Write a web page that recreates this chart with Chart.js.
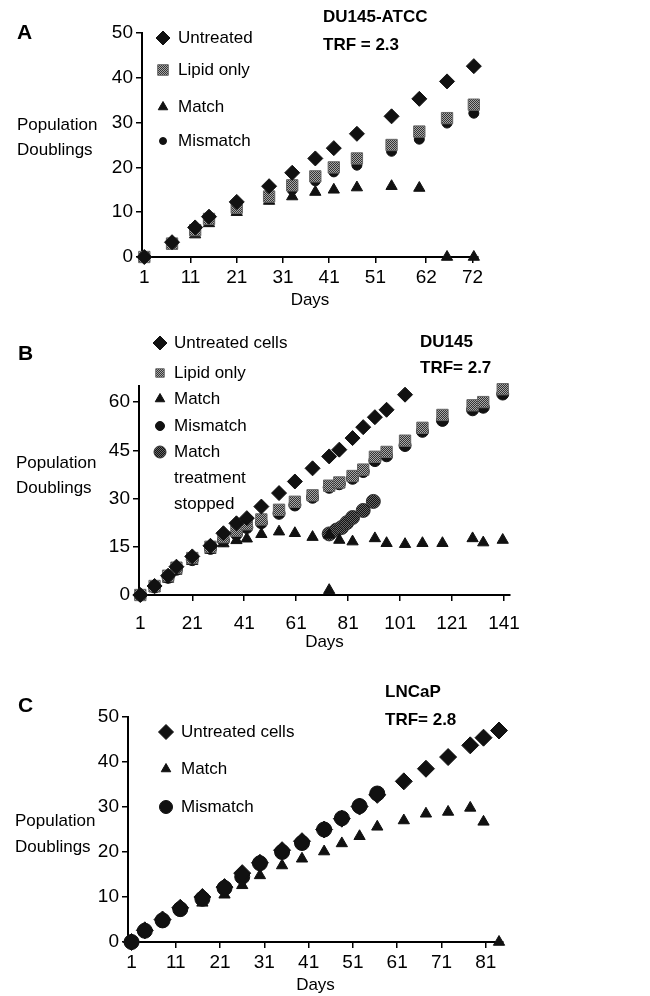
<!DOCTYPE html>
<html>
<head>
<meta charset="utf-8">
<script src="https://cdn.jsdelivr.net/npm/chart.js@4.4.0/dist/chart.umd.min.js"></script>
<style>
  body { margin: 0; background: #fff; }
  #page { position: relative; width: 650px; height: 996px; overflow: hidden; font-family: "Liberation Sans", Arial, sans-serif; color: #000; }
  canvas { position: absolute; left: 0; }
  .lbl { position: absolute; font-size: 17px; white-space: nowrap; }
  .b { font-weight: bold; }
  .letter { font-size: 21px; font-weight: bold; line-height: 24px; }
</style>
</head>
<body>
<div id="page">
  <canvas id="chartA" width="650" height="315" style="top:0px"></canvas>
  <canvas id="chartB" width="650" height="342" style="top:315px"></canvas>
  <canvas id="chartC" width="650" height="339" style="top:657px"></canvas>

  <div class="lbl letter" style="left:17px;top:20px">A</div>
  <div class="lbl b" style="left:323px;top:3px;line-height:28px">DU145-ATCC<br>TRF = 2.3</div>
  <div class="lbl" style="left:17px;top:112px;line-height:25px">Population<br>Doublings</div>

  <div class="lbl letter" style="left:18px;top:341px">B</div>
  <div class="lbl b" style="left:420px;top:329px;line-height:26px">DU145<br>TRF= 2.7</div>
  <div class="lbl" style="left:16px;top:450px;line-height:25px">Population<br>Doublings</div>

  <div class="lbl letter" style="left:18px;top:693px">C</div>
  <div class="lbl b" style="left:385px;top:678px;line-height:28px">LNCaP<br>TRF= 2.8</div>
  <div class="lbl" style="left:15px;top:808px;line-height:26px">Population<br>Doublings</div>
</div>

<script>
// ---- Panel A: DU145-ATCC ----
var daysA = [1, 7, 12, 15, 21, 28, 33, 38, 42, 47, 54.5, 60.5, 66.5, 72.3];
var untreatedA = [0, 3.3, 6.6, 9, 12.3, 15.8, 18.8, 22, 24.3, 27.5, 31.4, 35.3, 39.2, 42.6];
var lipidA = [0, 3, 6, 8.5, 11, 13.5, 16, 18, 20, 22, 25, 28, 31, 34];
var matchA = [0, 2.5, 5, 7.5, 10, 12.5, 13.5, 14.5, 15, 15.5, 15.8, 15.4, 0, 0];
var mismatchA = [0, 3, 6, 8, 11, 13, 15, 17, 19, 20.5, 23.6, 26.3, 29.9, 32.1];
var xTicksA = [1, 11, 21, 31, 41, 51, 62, 72];
var yTicksA = [0, 10, 20, 30, 40, 50];

// ---- Panel B: DU145 ----
var daysUntreatedB = [1, 6.5, 11.7, 14.9, 21, 28, 33, 38, 42, 47.6, 54.4, 60.5, 67.3, 73.7, 77.6, 82.7, 86.8, 91.3, 95.8, 102.9];
var untreatedB = [0, 2.8, 6, 8.8, 12, 15.3, 19.2, 22.3, 23.9, 27.5, 31.7, 35.3, 39.4, 43.1, 45.2, 48.8, 52.2, 55.3, 57.6, 62.3];
var daysLongB = [1, 6.5, 11.7, 14.9, 21, 28, 33, 38, 42, 47.6, 54.4, 60.5, 67.3, 73.7, 77.6, 82.7, 86.8, 91.3, 95.8, 102.9, 109.6, 117.3, 128.9, 133, 140.5];
var lipidB = [0, 2.8, 6, 8.5, 11.5, 15, 18, 20, 22, 23.5, 26.5, 29, 31, 34, 35, 37, 39, 43, 44.5, 48, 52, 56, 59, 60, 64];
var mismatchB = [0, 2.5, 5.5, 8, 11, 14.5, 17, 19, 21, 22.5, 25.4, 28, 30.4, 33.5, 34.6, 36.3, 38.4, 41.8, 43.3, 46.5, 50.9, 54.3, 57.6, 58.4, 62.5];
var daysMatchB = [1, 6.5, 11.7, 14.9, 21, 28, 33, 38, 42, 47.6, 54.4, 60.5, 67.3, 73.7, 73.7, 77.6, 82.7, 91.3, 95.8, 102.9, 109.6, 117.3, 128.9, 133, 140.5];
var matchB = [0, 2, 5, 7.5, 10.5, 14, 16, 17, 17.5, 18.9, 19.7, 19.2, 18, 18.7, 1.5, 17.1, 16.6, 17.6, 16.1, 15.8, 16.1, 16.1, 17.6, 16.3, 17.1];
var daysStoppedB = [73.7, 76.5, 78.5, 80.5, 82.7, 86.8, 90.7];
var stoppedB = [19, 20.2, 21, 22.5, 24.1, 26.3, 29.1];
var xTicksB = [1, 21, 41, 61, 81, 101, 121, 141];
var yTicksB = [0, 15, 30, 45, 60];

// ---- Panel C: LNCaP ----
var daysC = [1, 4, 8, 12, 17, 22, 26, 30, 35, 39.5, 44.5, 48.5, 52.5, 56.5, 62.5, 67.5, 72.5, 77.5, 80.5, 84];
var untreatedC = [0, 2.6, 5, 7.6, 10, 12.2, 15.3, 17.6, 20.4, 22.4, 25, 27.4, 30.1, 32.7, 35.7, 38.5, 41.1, 43.7, 45.4, 47];
var matchC = [0, 2.3, 4.5, 7, 8.7, 10.5, 12.6, 14.8, 17, 18.5, 20.1, 21.9, 23.5, 25.6, 27, 28.5, 28.9, 29.8, 26.7, 0];
var daysMismatchC = [1, 4, 8, 12, 17, 22, 26, 30, 35, 39.5, 44.5, 48.5, 52.5, 56.5];
var mismatchC = [0, 2.5, 4.8, 7.3, 9.6, 12, 14.5, 17.5, 20, 22, 25, 27.5, 30.2, 33];
var xTicksC = [1, 11, 21, 31, 41, 51, 61, 71, 81];
var yTicksC = [0, 10, 20, 30, 40, 50];

Chart.defaults.font.family = '"Liberation Sans", Arial, sans-serif';
Chart.defaults.font.size = 17;
Chart.defaults.color = "#000";
// tick numbers in the scan are a condensed face
var tickFont = { family: '"Liberation Sans Narrow", "Liberation Sans", Arial, sans-serif', size: 19 };

function pts(xs, ys) {
  return xs.map(function (x, i) { return { x: x, y: ys[i] }; });
}

// small checker pattern to mimic the halftone grey of the scan
function halftone(dark, light) {
  var c = document.createElement("canvas");
  c.width = 2; c.height = 2;
  var g = c.getContext("2d");
  g.fillStyle = light; g.fillRect(0, 0, 2, 2);
  g.fillStyle = dark; g.fillRect(0, 0, 1, 1); g.fillRect(1, 1, 1, 1);
  return g.createPattern(c, "repeat");
}
var lipidFill = halftone("#333", "#a8a8a8");
var stoppedFill = halftone("#111", "#666");

function series(label, xs, ys, style, r, fill, border, legendR) {
  return {
    label: label,
    data: pts(xs, ys),
    pointStyle: style,
    pointRadius: r,
    legendRadius: legendR || r,
    backgroundColor: fill,
    borderColor: border,
    borderWidth: 1,
    showLine: false,
    clip: false
  };
}

// legend drawn next to the axis, one marker + label per dataset
var markerLegend = {
  id: "markerLegend",
  afterDraw: function (chart, args, opts) {
    var ctx = chart.ctx;
    ctx.save();
    chart.data.datasets.forEach(function (ds, i) {
      var y = opts.ys[i];
      ctx.fillStyle = ds.backgroundColor;
      ctx.strokeStyle = ds.borderColor;
      ctx.lineWidth = 1;
      Chart.helpers.drawPoint(ctx, { pointStyle: ds.pointStyle, radius: ds.legendRadius, rotation: 0, borderWidth: 1 }, opts.markerX, y);
      ctx.fillStyle = "#000";
      ctx.font = '17px "Liberation Sans", Arial, sans-serif';
      ctx.textBaseline = "middle";
      ds.label.split("\n").forEach(function (line, k) {
        ctx.fillText(line, opts.textX, y + k * opts.lineHeight);
      });
    });
    ctx.restore();
  }
};

function panelChart(id, p) {
  return new Chart(document.getElementById(id), {
    type: "scatter",
    data: { datasets: p.datasets },
    options: {
      responsive: false,
      animation: false,
      layout: { padding: { top: p.top, right: p.right, bottom: 0, left: 0 } },
      plugins: {
        legend: { display: false },
        tooltip: { enabled: false },
        markerLegend: p.legend
      },
      scales: {
        x: {
          type: "linear",
          min: p.xMin,
          max: p.xMax,
          afterFit: function (s) { s.height = p.xHeight; },
          afterBuildTicks: function (s) { s.ticks = p.xTicks.map(function (v) { return { value: v }; }); },
          grid: { drawOnChartArea: false, drawTicks: true, tickLength: 6, color: "#000", lineWidth: 1.5 },
          border: { color: "#000", width: 2 },
          ticks: { padding: p.xPad, maxRotation: 0, autoSkip: false, color: "#000", font: tickFont },
          title: { display: true, text: "Days", color: "#000", padding: { top: 0, bottom: p.daysPad } }
        },
        y: {
          min: 0,
          max: p.yMax,
          afterFit: function (s) { s.width = p.yWidth; },
          afterBuildTicks: function (s) { s.ticks = p.yTicks.map(function (v) { return { value: v }; }); },
          grid: { drawOnChartArea: false, drawTicks: true, tickLength: 6, color: "#000", lineWidth: 1.5 },
          border: { color: "#000", width: 2 },
          ticks: { padding: 3, color: "#000", font: tickFont }
        }
      }
    },
    plugins: [markerLegend]
  });
}

panelChart("chartA", {
  datasets: [
    series("Untreated", daysA, untreatedA, "rectRot", 7.5, "#111", "#111", 7),
    series("Lipid only", daysA, lipidA, "rect", 8, lipidFill, "#666", 7.5),
    series("Match", daysA, matchA, "triangle", 6.5, "#111", "#111", 5.5),
    series("Mismatch", daysA, mismatchA, "circle", 5, "#111", "#111", 3.5)
  ],
  legend: { markerX: 163, textX: 178, ys: [38, 70, 107, 141], lineHeight: 26 },
  top: 33, right: 172, yWidth: 142, xHeight: 58,
  xMin: 0.5, xMax: 73.2, yMax: 50,
  xTicks: xTicksA, yTicks: yTicksA, xPad: 3, daysPad: 4
});

panelChart("chartB", {
  datasets: [
    series("Untreated cells", daysUntreatedB, untreatedB, "rectRot", 7.5, "#111", "#111", 7),
    series("Lipid only", daysLongB, lipidB, "rect", 8, lipidFill, "#666", 6),
    series("Match", daysMatchB, matchB, "triangle", 6.5, "#111", "#111", 5.5),
    series("Mismatch", daysLongB, mismatchB, "circle", 6, "#111", "#111", 4.5),
    series("Match\ntreatment\nstopped", daysStoppedB, stoppedB, "circle", 7, stoppedFill, "#333", 6)
  ],
  legend: { markerX: 160, textX: 174, ys: [28, 58, 84, 111, 137], lineHeight: 26 },
  top: 71, right: 140, yWidth: 139, xHeight: 62,
  xMin: 0.5, xMax: 143.3, yMax: 65,
  xTicks: xTicksB, yTicks: yTicksB, xPad: 11, daysPad: 4
});

panelChart("chartC", {
  datasets: [
    series("Untreated cells", daysC, untreatedC, "rectRot", 8.5, "#111", "#111", 7.5),
    series("Match", daysC, matchC, "triangle", 6.5, "#111", "#111", 5.5),
    series("Mismatch", daysMismatchC, mismatchC, "circle", 7.5, "#111", "#111", 6.5)
  ],
  legend: { markerX: 166, textX: 181, ys: [75, 112, 150], lineHeight: 26 },
  top: 60, right: 147, yWidth: 128, xHeight: 54,
  xMin: 0.2, xMax: 84.9, yMax: 50,
  xTicks: xTicksC, yTicks: yTicksC, xPad: 3, daysPad: 0
});
</script>
</body>
</html>
